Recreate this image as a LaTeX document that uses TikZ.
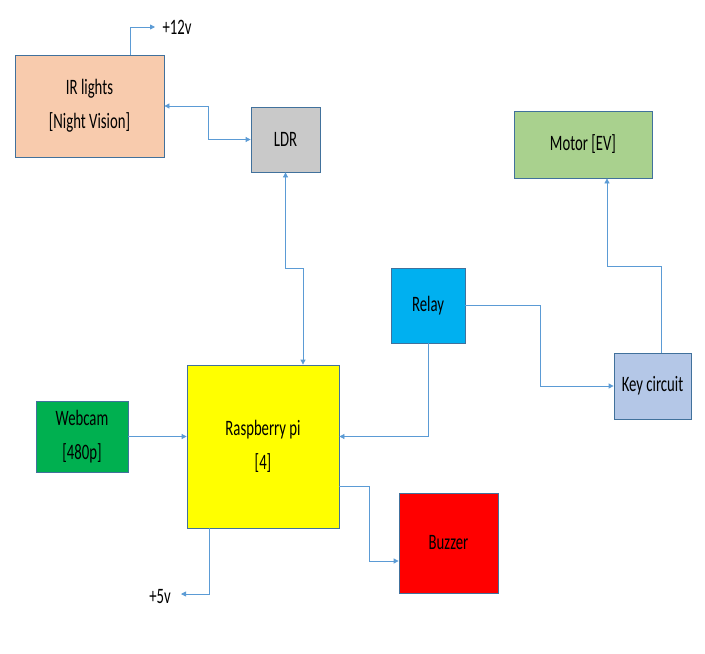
\documentclass[tikz,border=0pt]{standalone}
\usepackage{fontspec}
\setmainfont{Carlito}[FakeStretch=0.67]
\usetikzlibrary{arrows.meta,positioning}
\definecolor{EdgeBlue}{RGB}{65,113,156}
\definecolor{WireBlue}{RGB}{91,155,213}
\definecolor{SoftPeach}{RGB}{248,203,173}
\definecolor{SoftGrey}{RGB}{201,201,201}
\definecolor{SoftGreen}{RGB}{169,209,142}
\definecolor{SkyBlue}{RGB}{0,176,240}
\definecolor{PaleBlue}{RGB}{180,199,231}
\definecolor{CamGreen}{RGB}{0,176,80}
\definecolor{PiYellow}{RGB}{255,255,0}
\definecolor{AlarmRed}{RGB}{255,0,0}
\tikzset{
  block/.style={draw=EdgeBlue,line width=0.8pt,align=center,inner sep=0pt,
    font=\fontsize{22}{34}\selectfont},
  label/.style={font=\fontsize{22}{34}\selectfont,inner sep=0pt},
  wire/.style={-{Triangle[length=5pt,width=5pt]},line width=0.8pt,WireBlue},
  both/.style={{Triangle[length=5pt,width=5pt]}-{Triangle[length=5pt,width=5pt]},
    line width=0.8pt,WireBlue}
}

\begin{document}
\begin{tikzpicture}[x=1pt,y=-1pt]
  \useasboundingbox (0,0) rectangle (705,654);

  \node[block,fill=SoftPeach,minimum width=149pt,minimum height=102pt]
    (ir) at (89.5,106) {IR lights\\{}[Night Vision]};
  \node[block,fill=SoftGrey,minimum width=69pt,minimum height=65pt]
    (ldr) at (285.5,139.5) {LDR};
  \node[block,fill=SoftGreen,minimum width=138pt,minimum height=67pt]
    (motor) at (583,144.5) {Motor [EV]};
  \node[block,fill=SkyBlue,minimum width=74pt,minimum height=75pt]
    (relay) at (428,305.5) {Relay};
  \node[block,fill=PaleBlue,minimum width=77pt,minimum height=66pt]
    (key) at (652.5,386) {Key circuit};
  \node[block,fill=CamGreen,minimum width=92pt,minimum height=71pt]
    (webcam) at (82,436.5) {Webcam\\{}[480p]};
  \node[block,fill=PiYellow,minimum width=152pt,minimum height=163pt]
    (pi) at (263,446.5) {Raspberry pi\\{}[4]};
  \node[block,fill=AlarmRed,minimum width=99pt,minimum height=100pt]
    (buzzer) at (448.5,543) {Buzzer};

  % supply terminals
  \node[label] (v12) at (177,27) {+12v};
  \coordinate (p12) at (155,27);
  \node[label] (v5) at (160,597) {+5v};
  \coordinate (p5) at (181,594);

  % connections
  \draw[wire] (ir.north -| 130,0) |- (p12);
  \draw[both] (ir.east) -- ++(44,0) |- (ldr.west);
  \draw[both] (ldr.south) -- ++(0,96) -| ([xshift=40pt]pi.north);
  \draw[wire] (webcam.east) -- (webcam.east -| pi.west);
  \draw[wire] (relay.south) |- (webcam.east -| pi.east);
  \draw[wire] (relay.east) -- ++(75,0) |- (key.west);
  \draw[wire] ([xshift=8.5pt]key.north) -- ++(0,-86) -| ([xshift=24pt]motor.south);
  \draw[wire] ([yshift=-39.5pt]pi.east) -- ++(30,0) |- ([yshift=-18pt]buzzer.west);
  \draw[wire] ([xshift=-54pt]pi.south) |- (p5);
\end{tikzpicture}
\end{document}
